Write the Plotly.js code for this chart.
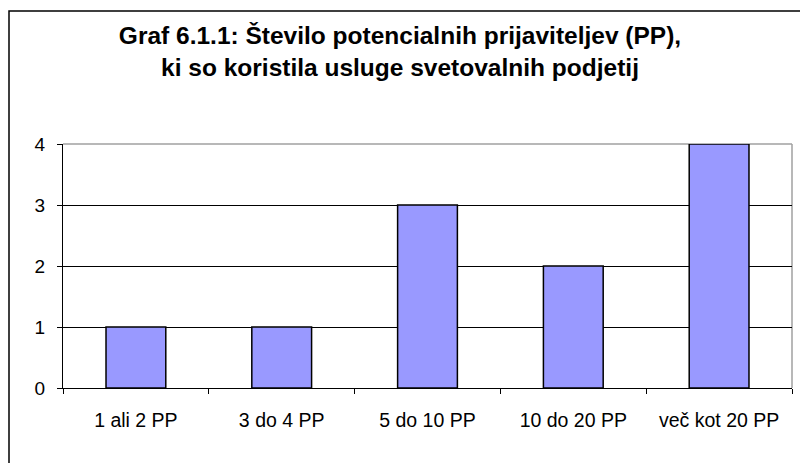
<!DOCTYPE html>
<html>
<head>
<meta charset="utf-8">
<script src="https://cdn.plot.ly/plotly-3.0.1.min.js"></script>
<style>html,body{margin:0;padding:0;background:#fff;}#chart{width:800px;height:463px;}</style>
</head>
<body>
<div id="chart"></div>
<script>
const categories = ["1 ali 2 PP", "3 do 4 PP", "5 do 10 PP", "10 do 20 PP", "več kot 20 PP"];
const values = [1, 1, 3, 2, 4];
const yTicks = [0, 1, 2, 3, 4];
const titleText = "Graf 6.1.1: Število potencialnih prijaviteljev (PP),<br>ki so koristila usluge svetovalnih podjetij";

const ml = 63, mr = 8, mt = 144, mb = 75, W = 800, H = 463;
const pw = W - ml - mr, ph = H - mt - mb;
const px = v => (v - ml) / pw;
const py = v => (H - mb - v) / ph;

const data = [{
  type: 'bar',
  x: categories,
  y: values,
  marker: {color: '#9999FF', line: {color: '#000000', width: 1.5}},
  hoverinfo: 'x+y'
}];

const layout = {
  width: W, height: H,
  margin: {l: ml, r: mr, t: mt, b: mb},
  paper_bgcolor: '#ffffff', plot_bgcolor: '#ffffff',
  font: {family: 'Liberation Sans, Arial, sans-serif', color: '#000000', size: 19},
  bargap: 0.59,
  showlegend: false,
  title: {
    text: '<b>' + titleText + '</b>',
    font: {family: 'Liberation Sans, Arial, sans-serif', size: 24.5, color: '#000000'},
    x: 0.5, xref: 'container', xanchor: 'center',
    y: 1 - 44 / H, yanchor: 'middle', yref: 'container'
  },
  xaxis: {
    type: 'category',
    showline: true, linecolor: '#000000', linewidth: 1,
    ticks: 'outside', ticklen: 5, tickcolor: '#000000', tickwidth: 1,
    tickson: 'boundaries',
    showgrid: false, zeroline: false,
    tickfont: {size: 19.5},
    ticklabelstandoff: 15,
    fixedrange: true
  },
  yaxis: {
    range: [0, 4],
    tickvals: yTicks,
    showline: true, linecolor: '#000000', linewidth: 1,
    ticks: 'outside', ticklen: 5, tickcolor: '#000000', tickwidth: 1,
    showgrid: true, gridcolor: '#000000', gridwidth: 1,
    zeroline: false,
    tickfont: {size: 19},
    ticklabelstandoff: 8,
    fixedrange: true
  },
  shapes: [
    {type: 'line', xref: 'paper', yref: 'paper', x0: 0, x1: 1, y0: 1, y1: 1,
     line: {color: '#a0a0a0', width: 1.5}, layer: 'below'},
    {type: 'line', xref: 'paper', yref: 'paper', x0: 1, x1: 1, y0: 0, y1: 1,
     line: {color: '#a0a0a0', width: 1.5}, layer: 'below'},
    {type: 'rect', xref: 'paper', yref: 'paper', x0: px(9), x1: px(820), y0: py(485), y1: py(11),
     line: {color: '#000000', width: 1.5}, fillcolor: 'rgba(0,0,0,0)', layer: 'below'}
  ]
};

Plotly.newPlot('chart', data, layout, {displayModeBar: false, staticPlot: true});
</script>
</body>
</html>
